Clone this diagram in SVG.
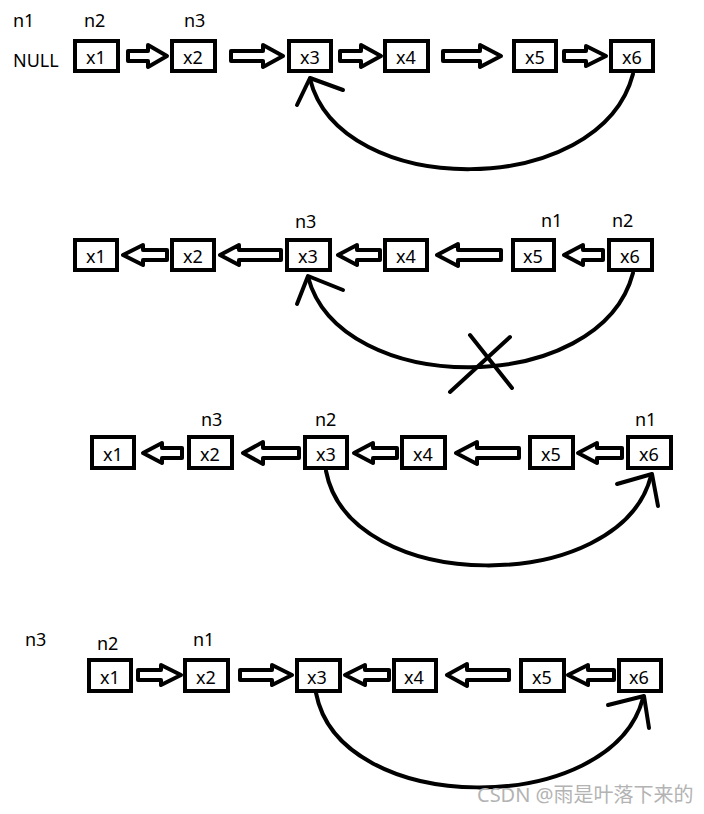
<svg xmlns="http://www.w3.org/2000/svg" width="704" height="814" viewBox="0 0 704 814">
<style>
.box{fill:#fff;stroke:#000;stroke-width:4}
.t{font-family:"Noto Sans","Liberation Sans",sans-serif;font-size:18px;fill:#000}
.c{text-anchor:middle}
.arr{fill:#fff;stroke:#000;stroke-width:4;stroke-linejoin:round}
.cur{fill:none;stroke:#000;stroke-width:4;stroke-linecap:round}
.wm{font-family:"Noto Sans","Noto Sans CJK SC",sans-serif;font-size:20px;fill:#b3b3b3}
</style>
<rect width="704" height="814" fill="#fff"/>
<!-- labels -->
<g id="labels">
<text class="t" x="13" y="27">n1</text>
<text class="t" x="13" y="67">NULL</text>
<text class="t" x="84" y="27">n2</text>
<text class="t" x="184" y="27">n3</text>
<text class="t" x="295" y="228">n3</text>
<text class="t" x="541" y="227">n1</text>
<text class="t" x="612" y="227">n2</text>
<text class="t" x="201" y="426">n3</text>
<text class="t" x="315" y="426">n2</text>
<text class="t" x="635" y="426">n1</text>
<text class="t" x="25" y="646">n3</text>
<text class="t" x="97" y="650">n2</text>
<text class="t" x="193" y="646">n1</text>
</g>
<!-- row 1 -->
<g id="r1x1"><rect class="box" x="75" y="41" width="43" height="30"/><text class="t c" x="96" y="64">x1</text></g>
<g id="r1x2"><rect class="box" x="172" y="41" width="43" height="30"/><text class="t c" x="193" y="64">x2</text></g>
<g id="r1x3"><rect class="box" x="289" y="41" width="42" height="30"/><text class="t c" x="310" y="64">x3</text></g>
<g id="r1x4"><rect class="box" x="385" y="41" width="43" height="30"/><text class="t c" x="406" y="64">x4</text></g>
<g id="r1x5"><rect class="box" x="514" y="41" width="42" height="30"/><text class="t c" x="535" y="64">x5</text></g>
<g id="r1x6"><rect class="box" x="611" y="41" width="42" height="30"/><text class="t c" x="632" y="64">x6</text></g>
<!-- row 2 -->
<g id="r2x1"><rect class="box" x="75" y="240" width="42" height="30"/><text class="t c" x="96" y="263">x1</text></g>
<g id="r2x2"><rect class="box" x="172" y="240" width="42" height="30"/><text class="t c" x="193" y="263">x2</text></g>
<g id="r2x3"><rect class="box" x="287" y="240" width="43" height="30"/><text class="t c" x="308" y="263">x3</text></g>
<g id="r2x4"><rect class="box" x="385" y="240" width="42" height="30"/><text class="t c" x="406" y="263">x4</text></g>
<g id="r2x5"><rect class="box" x="513" y="240" width="41" height="30"/><text class="t c" x="533" y="263">x5</text></g>
<g id="r2x6"><rect class="box" x="609" y="240" width="43" height="30"/><text class="t c" x="630" y="263">x6</text></g>
<!-- row 3 -->
<g id="r3x1"><rect class="box" x="92" y="437" width="42" height="31"/><text class="t c" x="113" y="461">x1</text></g>
<g id="r3x2"><rect class="box" x="189" y="437" width="43" height="31"/><text class="t c" x="210" y="461">x2</text></g>
<g id="r3x3"><rect class="box" x="305" y="437" width="42" height="31"/><text class="t c" x="326" y="461">x3</text></g>
<g id="r3x4"><rect class="box" x="402" y="437" width="43" height="31"/><text class="t c" x="423" y="461">x4</text></g>
<g id="r3x5"><rect class="box" x="530" y="437" width="43" height="31"/><text class="t c" x="551" y="461">x5</text></g>
<g id="r3x6"><rect class="box" x="628" y="437" width="43" height="31"/><text class="t c" x="649" y="461">x6</text></g>
<!-- row 4 -->
<g id="r4x1"><rect class="box" x="89" y="660" width="42" height="31"/><text class="t c" x="110" y="684">x1</text></g>
<g id="r4x2"><rect class="box" x="185" y="660" width="43" height="31"/><text class="t c" x="206" y="684">x2</text></g>
<g id="r4x3"><rect class="box" x="297" y="660" width="43" height="31"/><text class="t c" x="317" y="684">x3</text></g>
<g id="r4x4"><rect class="box" x="394" y="660" width="42" height="31"/><text class="t c" x="414" y="684">x4</text></g>
<g id="r4x5"><rect class="box" x="521" y="660" width="43" height="31"/><text class="t c" x="542" y="684">x5</text></g>
<g id="r4x6"><rect class="box" x="619" y="660" width="42" height="31"/><text class="t c" x="639" y="684">x6</text></g>
<!-- connectors -->
<g id="connectors">
<!-- row 1 right arrows, y=56 -->
<polygon class="arr" points="128,51 148,51 148,45 167,56 148,67 148,61 128,61"/>
<polygon class="arr" points="231,51 263,51 263,45 283,56 263,67 263,61 231,61"/>
<polygon class="arr" points="340,51 361,51 361,45 381,56 361,67 361,61 340,61"/>
<polygon class="arr" points="443,51 480,51 480,45 501,56 480,67 480,61 443,61"/>
<polygon class="arr" points="564,51 586,51 586,46 606,56 586,66 586,61 564,61"/>
<path class="cur" d="M633 74 C600 200 340 200 310 79"/>
<path class="cur" d="M310 78 L297 105 M310 78 L343 90"/>
<!-- row 2 left arrows, y=255 -->
<polygon class="arr" points="167,250 143,250 143,245 123,255 143,265 143,260 167,260"/>
<polygon class="arr" points="281,250 239,250 239,245 220,255 239,265 239,260 281,260"/>
<polygon class="arr" points="380,250 357,250 357,245 338,255 357,265 357,260 380,260"/>
<polygon class="arr" points="501,250 458,250 458,244 437,255 458,266 458,260 501,260"/>
<polygon class="arr" points="603,250 583,250 583,245 564,255 583,265 583,260 603,260"/>
<path class="cur" d="M633 273 C600 398 340 398 308 277"/>
<path class="cur" d="M308 276 L297 304 M308 276 L343 290"/>
<path class="cur" d="M470 335 L512 388 M510 337 L450 392"/>
<!-- row 3 left arrows, y=453 -->
<polygon class="arr" points="182,448 162,448 162,443 143,453 162,463 162,458 182,458"/>
<polygon class="arr" points="299,448 263,448 263,442 243,453 263,464 263,458 299,458"/>
<polygon class="arr" points="397,448 373,448 373,443 354,453 373,463 373,458 397,458"/>
<polygon class="arr" points="519,448 477,448 477,442 456,453 477,464 477,458 519,458"/>
<polygon class="arr" points="622,448 597,448 597,443 578,453 597,463 597,458 622,458"/>
<path class="cur" d="M326 471 C350 596 620 596 651 476"/>
<path class="cur" d="M652 474 L617 484 M652 474 L658 506"/>
<!-- row 4, y=675 -->
<polygon class="arr" points="138,670 161,670 161,665 181,675 161,685 161,680 138,680"/>
<polygon class="arr" points="240,670 272,670 272,665 292,675 272,685 272,680 240,680"/>
<polygon class="arr" points="389,670 365,670 365,665 345,675 365,685 365,680 389,680"/>
<polygon class="arr" points="509,670 467,670 467,664 447,675 467,686 467,680 509,680"/>
<polygon class="arr" points="614,670 588,670 588,665 568,675 588,685 588,680 614,680"/>
<path class="cur" d="M316 693 C340 818 612 818 643 698"/>
<path class="cur" d="M644 696 L608 705 M644 696 L649 728"/>
</g>
<text class="wm" x="477" y="802">CSDN @雨是叶落下来的</text>
</svg>
